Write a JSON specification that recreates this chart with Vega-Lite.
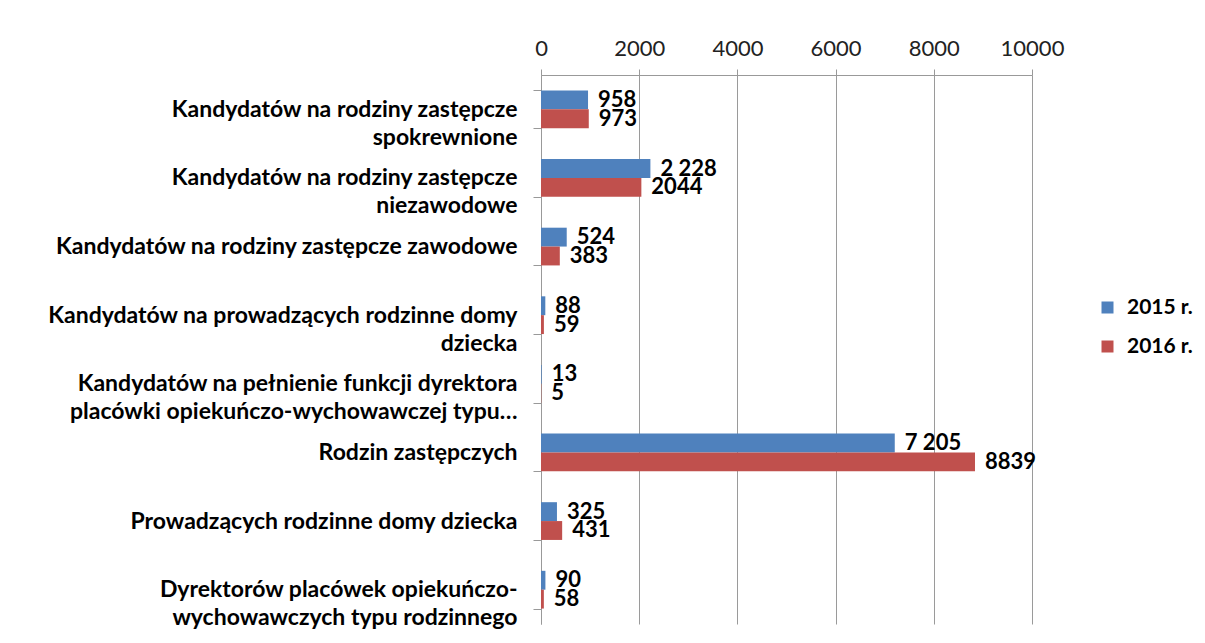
{
  "$schema": "https://vega.github.io/schema/vega-lite/v6.json",
  "width": 491,
  "height": 549,
  "padding": {"left": 21, "top": 30, "right": 5, "bottom": 5},
  "background": "white",
  "config": {
    "font": "Lato",
    "view": {"stroke": null}
  },
  "data": {
    "values": [
      {"category": "Kandydatów na rodziny zastępcze|spokrewnione", "year": "2015 r.", "value": 958, "label": "958"},
      {"category": "Kandydatów na rodziny zastępcze|spokrewnione", "year": "2016 r.", "value": 973, "label": "973"},
      {"category": "Kandydatów na rodziny zastępcze|niezawodowe", "year": "2015 r.", "value": 2228, "label": "2 228"},
      {"category": "Kandydatów na rodziny zastępcze|niezawodowe", "year": "2016 r.", "value": 2044, "label": "2044"},
      {"category": "Kandydatów na rodziny zastępcze zawodowe", "year": "2015 r.", "value": 524, "label": "524"},
      {"category": "Kandydatów na rodziny zastępcze zawodowe", "year": "2016 r.", "value": 383, "label": "383"},
      {"category": "Kandydatów na prowadzących rodzinne domy|dziecka", "year": "2015 r.", "value": 88, "label": "88"},
      {"category": "Kandydatów na prowadzących rodzinne domy|dziecka", "year": "2016 r.", "value": 59, "label": "59"},
      {"category": "Kandydatów na pełnienie funkcji dyrektora|placówki opiekuńczo-wychowawczej typu…", "year": "2015 r.", "value": 13, "label": "13"},
      {"category": "Kandydatów na pełnienie funkcji dyrektora|placówki opiekuńczo-wychowawczej typu…", "year": "2016 r.", "value": 5, "label": "5"},
      {"category": "Rodzin zastępczych", "year": "2015 r.", "value": 7205, "label": "7 205"},
      {"category": "Rodzin zastępczych", "year": "2016 r.", "value": 8839, "label": "8839"},
      {"category": "Prowadzących rodzinne domy dziecka", "year": "2015 r.", "value": 325, "label": "325"},
      {"category": "Prowadzących rodzinne domy dziecka", "year": "2016 r.", "value": 431, "label": "431"},
      {"category": "Dyrektorów placówek opiekuńczo-|wychowawczych typu rodzinnego", "year": "2015 r.", "value": 90, "label": "90"},
      {"category": "Dyrektorów placówek opiekuńczo-|wychowawczych typu rodzinnego", "year": "2016 r.", "value": 58, "label": "58"}
    ]
  },
  "encoding": {
    "y": {
      "field": "category",
      "type": "nominal",
      "sort": null,
      "scale": {"paddingInner": 0.45, "paddingOuter": 0.225},
      "axis": {
        "title": null,
        "orient": "left",
        "labelExpr": "split(datum.label, '|')",
        "labelFontSize": 23,
        "labelFontWeight": "bold",
        "labelColor": "#000000",
        "labelLineHeight": 28,
        "labelLimit": 520,
        "labelPadding": 16,
        "tickSize": 8,
        "tickBand": "extent",
        "tickColor": "#999999",
        "domainColor": "#999999",
        "minExtent": 520,
        "maxExtent": 520
      }
    },
    "yOffset": {"field": "year", "type": "nominal", "sort": ["2015 r.", "2016 r."]},
    "x": {
      "field": "value",
      "type": "quantitative",
      "scale": {"domain": [0, 10000], "nice": false},
      "axis": {
        "title": null,
        "orient": "top",
        "values": [0, 2000, 4000, 6000, 8000, 10000],
        "format": "d",
        "labelFlush": false,
        "labelFontSize": 22,
        "labelColor": "#222222",
        "labelPadding": 9,
        "tickSize": 6,
        "tickColor": "#999999",
        "domainColor": "#999999",
        "grid": true,
        "gridColor": "#9a9a9a",
        "gridWidth": 1,
        "minExtent": 45,
        "maxExtent": 45
      }
    }
  },
  "layer": [
    {
      "mark": {"type": "bar"},
      "encoding": {
        "color": {
          "field": "year",
          "type": "nominal",
          "scale": {"domain": ["2015 r.", "2016 r."], "range": ["#4F81BD", "#C0504D"]},
          "legend": {
            "title": null,
            "orient": "none",
            "legendX": 556,
            "legendY": 222,
            "symbolType": "square",
            "symbolSize": 144,
            "symbolStrokeWidth": 0,
            "labelFontSize": 21,
            "labelFontWeight": "bold",
            "labelColor": "#000000",
            "labelOffset": 9,
            "rowPadding": 17
          }
        }
      }
    },
    {
      "mark": {"type": "text", "align": "left", "baseline": "middle", "dx": 10, "fontSize": 22, "fontWeight": "bold", "color": "#000000"},
      "encoding": {
        "text": {"field": "label", "type": "nominal"}
      }
    }
  ]
}
